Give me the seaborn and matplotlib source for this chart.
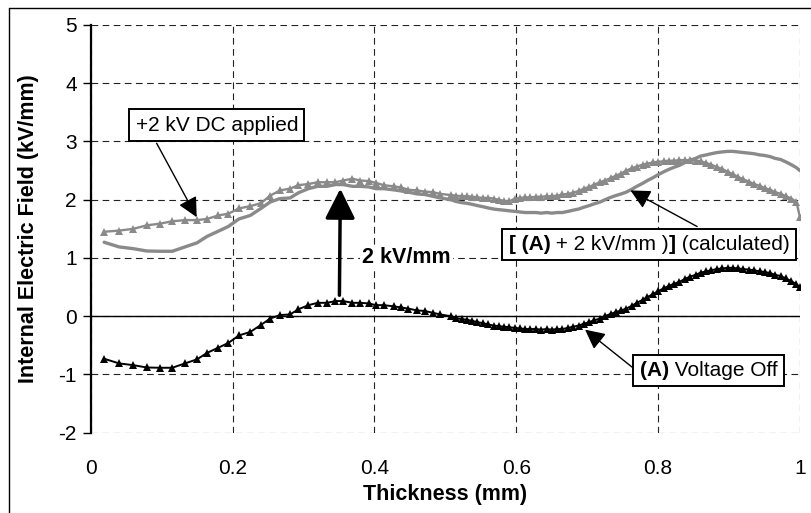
import matplotlib
matplotlib.use("Agg")
import matplotlib.pyplot as plt
import numpy as np
import pandas as pd
import seaborn as sns
from matplotlib.offsetbox import TextArea, HPacker, AnnotationBbox
from matplotlib.lines import Line2D

# ---------------- data ----------------
thickness = [
    0.019, 0.040, 0.060, 0.079, 0.098, 0.115, 0.133, 0.150, 0.164, 0.180,
    0.194, 0.209, 0.225, 0.240, 0.253, 0.267, 0.281, 0.293, 0.307, 0.320,
    0.333, 0.345, 0.356, 0.369, 0.380, 0.392, 0.402, 0.413, 0.427, 0.438,
    0.448, 0.460, 0.471, 0.482, 0.493,
    0.508, 0.515, 0.523, 0.530, 0.538, 0.545, 0.553, 0.560, 0.568, 0.575,
    0.583, 0.590, 0.598, 0.605, 0.613, 0.620, 0.628, 0.635, 0.643, 0.650,
    0.658, 0.665, 0.673, 0.680, 0.688, 0.695, 0.703, 0.710, 0.718, 0.725,
    0.733, 0.740, 0.748, 0.755, 0.763, 0.770, 0.778, 0.785, 0.793, 0.800,
    0.808, 0.815, 0.823, 0.830, 0.838, 0.845, 0.853, 0.860, 0.868, 0.875,
    0.883, 0.890, 0.898, 0.905, 0.913, 0.920, 0.928, 0.935, 0.943, 0.950,
    0.958, 0.965, 0.973, 0.980, 0.988, 0.995, 1.000,
]

voltage_off = [
    -0.73, -0.81, -0.84, -0.88, -0.885, -0.885, -0.81, -0.74, -0.63, -0.54,
    -0.46, -0.33, -0.27, -0.15, -0.04, 0.02, 0.03, 0.12, 0.19, 0.23,
    0.23, 0.26, 0.26, 0.23, 0.23, 0.22, 0.19, 0.19, 0.17, 0.15,
    0.13, 0.10, 0.09, 0.06, 0.03,
    0.00, -0.03, -0.05, -0.06, -0.08, -0.10, -0.12, -0.14, -0.16, -0.17,
    -0.18, -0.19, -0.20, -0.21, -0.22, -0.22, -0.22, -0.23, -0.22, -0.23,
    -0.22, -0.22, -0.20, -0.18, -0.16, -0.13, -0.10, -0.07, -0.04, 0.00,
    0.04, 0.07, 0.10, 0.13, 0.18, 0.23, 0.28, 0.33, 0.38, 0.43,
    0.48, 0.52, 0.56, 0.59, 0.64, 0.68, 0.71, 0.75, 0.77, 0.79,
    0.81, 0.82, 0.83, 0.83, 0.82, 0.81, 0.80, 0.79, 0.77, 0.76,
    0.74, 0.71, 0.69, 0.65, 0.60, 0.55, 0.50,
]

dc_applied = [
    1.45, 1.47, 1.50, 1.56, 1.59, 1.63, 1.65, 1.65, 1.67, 1.73,
    1.76, 1.85, 1.89, 1.94, 2.07, 2.16, 2.19, 2.25, 2.27, 2.30,
    2.30, 2.30, 2.33, 2.36, 2.33, 2.32, 2.29, 2.25, 2.23, 2.21,
    2.17, 2.16, 2.14, 2.13, 2.10,
    2.08, 2.07, 2.06, 2.06, 2.05, 2.04, 2.03, 2.03, 2.02, 2.00,
    1.98, 1.97, 2.02, 2.03, 2.04, 2.04, 2.05, 2.05, 2.06, 2.06,
    2.07, 2.09, 2.10, 2.12, 2.15, 2.19, 2.22, 2.26, 2.30, 2.33,
    2.37, 2.41, 2.45, 2.50, 2.54, 2.57, 2.60, 2.62, 2.64, 2.65,
    2.66, 2.67, 2.67, 2.68, 2.68, 2.68, 2.67, 2.66, 2.63, 2.60,
    2.56, 2.53, 2.48, 2.44, 2.39, 2.35, 2.31, 2.27, 2.24, 2.20,
    2.17, 2.13, 2.10, 2.06, 2.02, 1.96, 1.70,
]

field_shift = 2.0  # "(A) + 2 kV/mm (calculated)"
calculated = [v + field_shift for v in voltage_off]

x_ticks = [0, 0.2, 0.4, 0.6, 0.8, 1.0]
x_tick_labels = ["0", "0.2", "0.4", "0.6", "0.8", "1"]
y_ticks = [-2, -1, 0, 1, 2, 3, 4, 5]
y_tick_labels = ["-2", "-1", "0", "1", "2", "3", "4", "5"]

# ---------------- style ----------------
sns.set_theme(style="white")
plt.rcParams['font.family'] = ['Liberation Sans', 'DejaVu Sans']

GRAY = '#8a8a8a'
FS = 15
BOX_FS = 15

fig = plt.figure(figsize=(8.11, 5.13), dpi=100)
ax = fig.add_axes([0.1118, 0.1565, 0.8746, 0.7948])

df = pd.DataFrame({"Thickness": thickness, "off": voltage_off,
                   "applied": dc_applied, "calc": calculated})

sns.lineplot(data=df, x="Thickness", y="calc", ax=ax, color=GRAY, lw=2.4,
             sort=False, estimator=None, zorder=3)
sns.lineplot(data=df, x="Thickness", y="applied", ax=ax, color=GRAY, lw=1.7,
             marker='^', markersize=6, markeredgewidth=0, sort=False,
             estimator=None, zorder=4)
sns.lineplot(data=df, x="Thickness", y="off", ax=ax, color='black', lw=1.4,
             marker='^', markersize=6, markeredgewidth=0, sort=False,
             estimator=None, zorder=5)

ax.set_xlim(0, 1)
ax.set_ylim(-2, 5)
ax.set_xticks(x_ticks)
ax.set_xticklabels(x_tick_labels)
ax.set_yticks(y_ticks)
ax.set_yticklabels(y_tick_labels)

ax.grid(True, linestyle=(0, (6, 4)), color='#222222', lw=0.8)
ax.set_axisbelow(True)
ax.axhline(0, color='black', lw=1.0, zorder=2)

for s in ['top', 'right', 'bottom']:
    ax.spines[s].set_visible(False)
ax.spines['left'].set_color('black')
ax.spines['left'].set_linewidth(1.6)

ax.tick_params(axis='y', left=True, direction='out', length=6, width=1,
               color='black', labelsize=FS, pad=4, labelcolor='black')
ax.tick_params(axis='x', bottom=False, length=0, labelsize=FS, pad=19,
               labelcolor='black')

ax.set_xlabel("Thickness (mm)", fontsize=15.5, weight='bold', color='black',
              labelpad=4)
ax.set_ylabel("Internal Electric Field (kV/mm)", fontsize=15.5, weight='bold',
              color='black')
ax.yaxis.set_label_coords(-0.073, 0.5)

# outer frame (partially cropped in reference)
fig.add_artist(Line2D([8.5 / 811, 8.5 / 811], [0, 1 - 7.5 / 513],
                      transform=fig.transFigure, color='black', lw=1))
fig.add_artist(Line2D([8.5 / 811, 1], [1 - 7.5 / 513, 1 - 7.5 / 513],
                      transform=fig.transFigure, color='black', lw=1))

# ---------------- annotations ----------------
small_arrow = dict(arrowstyle='-|>,head_length=0.4,head_width=0.2',
                   mutation_scale=30, lw=1, color='black',
                   shrinkA=0, shrinkB=0)

# big 2 kV/mm arrow
ax.annotate("", xy=(0.352, 2.19), xytext=(0.3507, 0.36),
            arrowprops=dict(arrowstyle='-|>,head_length=0.4,head_width=0.2',
                            mutation_scale=46, lw=2.5, color='black',
                            shrinkA=0, shrinkB=0), zorder=6)
ax.text(0.383, 1.01, "2 kV/mm", fontsize=15.5, weight='bold', color='black',
        ha='left', va='center', zorder=6,
        bbox=dict(boxstyle='square,pad=0.1', fc='white', ec='none'))

# pointer arrows
ax.annotate("", xy=(0.1495, 1.70), xytext=(0.093, 2.97),
            arrowprops=small_arrow, zorder=6)
ax.annotate("", xy=(0.761, 2.16), xytext=(0.855, 1.54),
            arrowprops=small_arrow, zorder=6)
ax.annotate("", xy=(0.697, -0.23), xytext=(0.765, -0.89),
            arrowprops=small_arrow, zorder=6)


def label_box(parts, xy, pad):
    areas = [TextArea(t, textprops=dict(fontsize=BOX_FS, weight=w, color='black'))
             for t, w in parts]
    packer = HPacker(children=areas, align="baseline", pad=0, sep=0)
    ab = AnnotationBbox(packer, xy, xycoords='data', frameon=True,
                        pad=pad, fontsize=BOX_FS, annotation_clip=False,
                        bboxprops=dict(boxstyle='square', fc='white',
                                       ec='black', lw=1.4))
    ab.set_zorder(7)
    ax.add_artist(ab)


label_box([("+2 kV DC applied", 'normal')], (0.178, 3.28), 0.4)
label_box([("[ (A)", 'bold'), (" + 2 kV/mm )", 'normal'), ("]", 'bold'),
           (" (calculated)", 'normal')], (0.7875, 1.23), 0.3)
label_box([("(A)", 'bold'), (" Voltage Off", 'normal')], (0.871, -0.934), 0.15)

fig.savefig("out.png", dpi=100)
